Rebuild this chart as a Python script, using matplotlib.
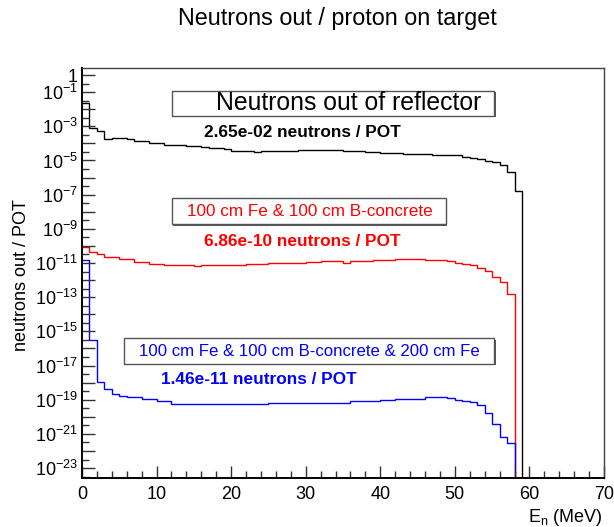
import numpy as np
import matplotlib
matplotlib.use("Agg")
import matplotlib.pyplot as plt
from matplotlib.patches import Rectangle
from matplotlib.ticker import FixedLocator, FuncFormatter, MultipleLocator

plt.rcParams['font.family'] = ['Liberation Sans', 'DejaVu Sans']
plt.rcParams['mathtext.fontset'] = 'custom'
plt.rcParams['mathtext.rm'] = 'Liberation Sans'
plt.rcParams['mathtext.it'] = 'Liberation Sans:italic'
plt.rcParams['mathtext.bf'] = 'Liberation Sans:bold'

# 1 MeV bins from 0 to 70 MeV
bin_edges = np.arange(0, 71, 1)

# neutrons / POT per bin leaving the reflector (bins 0-58 MeV)
reflector = [
    2.3e-2, 7.6e-4, 5.0e-4, 1.74e-4, 2.0e-4, 2.0e-4, 1.74e-4, 1.45e-4, 1.45e-4, 1.02e-4,
    1.02e-4, 8.1e-5, 8.1e-5, 8.1e-5, 7.1e-5, 7.1e-5, 5.9e-5, 5.1e-5, 5.1e-5, 4.5e-5,
    3.7e-5, 3.7e-5, 3.5e-5, 3.3e-5, 3.7e-5, 3.7e-5, 3.7e-5, 3.7e-5, 3.7e-5, 4.3e-5,
    3.9e-5, 3.9e-5, 3.9e-5, 3.9e-5, 3.9e-5, 3.5e-5, 3.5e-5, 3.5e-5, 3.0e-5, 3.0e-5,
    2.6e-5, 2.6e-5, 2.6e-5, 2.4e-5, 2.4e-5, 2.4e-5, 2.4e-5, 2.2e-5, 2.2e-5, 2.0e-5,
    2.0e-5, 1.66e-5, 1.45e-5, 1.29e-5, 9.3e-6, 7.8e-6, 5.2e-6, 2.1e-6, 1.66e-7,
]

# after 100 cm Fe & 100 cm B-concrete (bins 0-57 MeV)
fe_bconcrete = [
    9.1e-11, 4.7e-11, 3.2e-11, 2.4e-11, 2.4e-11, 1.74e-11, 1.74e-11, 1.2e-11, 1.2e-11, 8.5e-12,
    8.5e-12, 7.8e-12, 7.8e-12, 7.8e-12, 7.8e-12, 6.8e-12, 7.8e-12, 7.8e-12, 7.8e-12, 7.8e-12,
    7.8e-12, 7.8e-12, 8.9e-12, 8.5e-12, 8.5e-12, 9.8e-12, 9.8e-12, 9.8e-12, 9.8e-12, 9.8e-12,
    1.12e-11, 1.12e-11, 1.32e-11, 1.32e-11, 1.32e-11, 1.05e-11, 1.32e-11, 1.32e-11, 1.32e-11, 1.45e-11,
    1.45e-11, 1.45e-11, 1.66e-11, 1.66e-11, 1.66e-11, 1.66e-11, 1.51e-11, 1.51e-11, 1.51e-11, 1.32e-11,
    1.05e-11, 8.9e-12, 7.8e-12, 4.9e-12, 3.2e-12, 1.62e-12, 8.1e-13, 1.55e-13,
]

# after 100 cm Fe & 100 cm B-concrete & 200 cm Fe (bins 0-57 MeV)
fe_bconcrete_fe = [
    1.5e-11, 3.2e-16, 1.02e-18, 4.2e-19, 2.2e-19, 1.7e-19, 1.35e-19, 1.35e-19, 1.07e-19, 1.07e-19,
    7.9e-20, 7.9e-20, 5.8e-20, 5.8e-20, 5.8e-20, 5.8e-20, 5.6e-20, 5.6e-20, 5.6e-20, 5.6e-20,
    5.8e-20, 5.8e-20, 5.8e-20, 5.8e-20, 5.8e-20, 6.3e-20, 6.3e-20, 6.3e-20, 6.3e-20, 6.3e-20,
    6.3e-20, 6.3e-20, 6.3e-20, 6.3e-20, 6.3e-20, 6.3e-20, 7.9e-20, 7.9e-20, 7.9e-20, 8.7e-20,
    9.5e-20, 1.0e-19, 1.12e-19, 1.12e-19, 1.12e-19, 1.12e-19, 1.35e-19, 1.48e-19, 1.48e-19, 1.23e-19,
    1.0e-19, 8.7e-20, 6.9e-20, 5.0e-20, 1.78e-20, 3.9e-21, 6.5e-22, 2.9e-22,
]

series = [
    (reflector, 'black'),
    (fe_bconcrete, '#ff0000'),
    (fe_bconcrete_fe, '#0000ff'),
]

W, H = 614, 527
fig = plt.figure(figsize=(W / 100, H / 100), dpi=100)
ax = fig.add_axes([82 / W, 1 - 478 / H, (604 - 82) / W, (478 - 68) / H])

ymin, ymax = 10 ** -23.58, 10 ** 0.41
ax.set_yscale('log')
ax.set_xlim(0, 70)
ax.set_ylim(ymin, ymax)

for vals, col in series:
    counts = np.zeros(len(bin_edges) - 1)
    counts[:len(vals)] = vals
    shown = np.where(counts > 0, counts, ymin)
    ax.stairs(shown, bin_edges, baseline=None, color=col, lw=1.0)

# axes frame and ticks
for side in ('left', 'bottom'):
    ax.spines[side].set_linewidth(1.4)
    ax.spines[side].set_color('black')
for side in ('top', 'right'):
    ax.spines[side].set_linewidth(1.0)
    ax.spines[side].set_color('#444444')

ax.xaxis.set_major_locator(MultipleLocator(10))
ax.xaxis.set_minor_locator(MultipleLocator(2))
decades = np.arange(-23, 1)
ax.yaxis.set_major_locator(FixedLocator(10.0 ** decades))
ax.yaxis.set_minor_locator(FixedLocator(10.0 ** (decades - 0.5)))
labelled = set([0] + list(range(-1, -24, -2)))


def ylab(v, pos):
    e = int(round(np.log10(v)))
    if e not in labelled:
        return ''
    if e == 0:
        return '1'
    return r'$10^{%d}$' % e


ax.yaxis.set_major_formatter(FuncFormatter(ylab))
ax.yaxis.set_minor_formatter(FuncFormatter(lambda v, p: ''))
ax.tick_params(which='both', direction='in', top=False, right=False,
               labelsize=13, color='#333333', width=1.0)
ax.tick_params(which='major', length=9)
ax.tick_params(which='minor', length=5)
ax.tick_params(axis='x', pad=6)
ax.tick_params(axis='y', pad=3)


def fx(x):
    return x / W


def fy(y):
    return 1 - y / H


# titles
fig.text(fx(337), fy(18), 'Neutrons out / proton on target', fontsize=16.8,
         ha='center', va='center')
fig.text(fx(603), fy(517), r'E$_{\mathregular{n}}$ (MeV)', fontsize=13,
         ha='right', va='center')
fig.text(fx(22), fy(275), 'neutrons out / POT', fontsize=13, rotation=90,
         ha='center', va='center')


def pave(x0, y0, x1, y1):
    fig.patches.append(Rectangle((fx(x0) + 1.5 / W, fy(y1) - 1.5 / H), (x1 - x0) / W, (y1 - y0) / H,
                                 transform=fig.transFigure, facecolor='#555555',
                                 edgecolor='none', zorder=5))
    fig.patches.append(Rectangle((fx(x0), fy(y1)), (x1 - x0) / W, (y1 - y0) / H,
                                 transform=fig.transFigure, facecolor='white',
                                 edgecolor='#555555', lw=1.0, zorder=6))


pave(171.5, 90.5, 494, 116)
fig.text(fx(348.5), fy(103.5), 'Neutrons out of reflector', fontsize=17.8,
         ha='center', va='center', zorder=7)
fig.text(fx(302), fy(132.5), '2.65e-02 neutrons / POT', fontsize=12.4,
         fontweight='bold', ha='center', va='center')

pave(171.5, 198, 445.5, 224)
fig.text(fx(310), fy(211), '100 cm Fe & 100 cm B-concrete', fontsize=12.3,
         color='#ff0000', ha='center', va='center', zorder=7)
fig.text(fx(302), fy(241.5), '6.86e-10 neutrons / POT', fontsize=12.4,
         fontweight='bold', color='#ff0000', ha='center', va='center')

pave(123.5, 338, 494, 363.5)
fig.text(fx(309.5), fy(351), '100 cm Fe & 100 cm B-concrete & 200 cm Fe', fontsize=12.1,
         color='#0000ff', ha='center', va='center', zorder=7)
fig.text(fx(258.5), fy(380), '1.46e-11 neutrons / POT', fontsize=12.4,
         fontweight='bold', color='#0000ff', ha='center', va='center')

fig.savefig('out.png', dpi=100)
